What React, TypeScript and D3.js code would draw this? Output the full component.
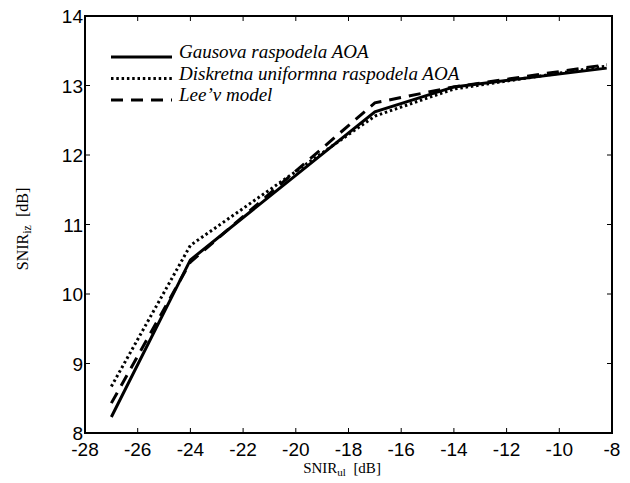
import React from "react";
import * as d3 from "d3";

const xValues = [-27, -24, -17, -14, -8.2];
const gaus = [8.23, 10.49, 12.62, 12.98, 13.25];
const diskretna = [8.67, 10.7, 12.56, 12.95, 13.28];
const lee = [8.43, 10.46, 12.75, 12.98, 13.3];
const xTicks = [-28, -26, -24, -22, -20, -18, -16, -14, -12, -10, -8];
const yTicks = [8, 9, 10, 11, 12, 13, 14];
const seriesNames = ["Gausova raspodela AOA", "Diskretna uniformna raspodela AOA", "Lee’v model"];

const W = 630, H = 483;
const L = 85, R = 612, T = 16, B = 433;
const SANS = "Liberation Sans, Arimo, Arial, sans-serif";
const SERIF = "Liberation Serif, Tinos, Times New Roman, DejaVu Serif, serif";

export default function App() {
  const x = d3.scaleLinear().domain([-28, -8]).range([L, R]);
  const y = d3.scaleLinear().domain([8, 14]).range([B, T]);
  const line = d3.line<number>().x((_, i) => x(xValues[i])).y((d) => y(d));
  const series = [
    { vals: gaus, dash: undefined as string | undefined },
    { vals: diskretna, dash: "2.5,2.8" },
    { vals: lee, dash: "12,8" },
  ];
  const tl = 5;
  const sans = { fontFamily: SANS, fontSize: "19px" };
  const serif = { fontFamily: SERIF };
  return (
    <svg width={W} height={H} style={{ position: "absolute", left: 0, top: 0, background: "#fff" }}>
      <rect x={0} y={0} width={W} height={H} fill="#fff" />
      {series.map((s, i) => (
        <path key={i} d={line(s.vals) || ""} fill="none" stroke="#000" strokeWidth={3}
          strokeDasharray={s.dash} strokeLinejoin="miter" />
      ))}
      <rect x={L} y={T} width={R - L} height={B - T} fill="none" stroke="#000" strokeWidth={2} />
      {xTicks.map((t) => (
        <g key={"x" + t}>
          <line x1={x(t)} x2={x(t)} y1={B} y2={B - tl} stroke="#000" strokeWidth={1} />
          <line x1={x(t)} x2={x(t)} y1={T} y2={T + tl} stroke="#000" strokeWidth={1} />
          <text x={x(t)} y={B + 23} textAnchor="middle" style={sans}>{t}</text>
        </g>
      ))}
      {yTicks.map((t) => (
        <g key={"y" + t}>
          <line x1={L} x2={L + tl} y1={y(t)} y2={y(t)} stroke="#000" strokeWidth={1} />
          <line x1={R} x2={R - tl} y1={y(t)} y2={y(t)} stroke="#000" strokeWidth={1} />
          <text x={L - 2} y={y(t) + 7} textAnchor="end" style={sans}>{t}</text>
        </g>
      ))}
      <text x={342} y={473} textAnchor="middle" style={{ ...serif, fontSize: "15px" }}>
        SNIR<tspan style={{ fontSize: "11px" }} dy={3}>ul</tspan><tspan dy={-3}>{"\u00a0\u00a0[dB]"}</tspan>
      </text>
      <text transform={`translate(28,229) rotate(-90)`} textAnchor="middle" style={{ ...serif, fontSize: "16px" }}>
        SNIR<tspan style={{ fontSize: "12px" }} dy={3}>iz</tspan><tspan dy={-3}>{"\u00a0\u00a0[dB]"}</tspan>
      </text>
      {series.map((s, i) => (
        <g key={"lg" + i}>
          <line x1={111} x2={172} y1={57 + i * 21.5} y2={57 + i * 21.5} stroke="#000" strokeWidth={3} strokeDasharray={s.dash} />
          <text x={179} y={58 + i * 21.5} style={{ ...serif, fontStyle: "italic", fontSize: "19px" }}>{seriesNames[i]}</text>
        </g>
      ))}
    </svg>
  );
}
